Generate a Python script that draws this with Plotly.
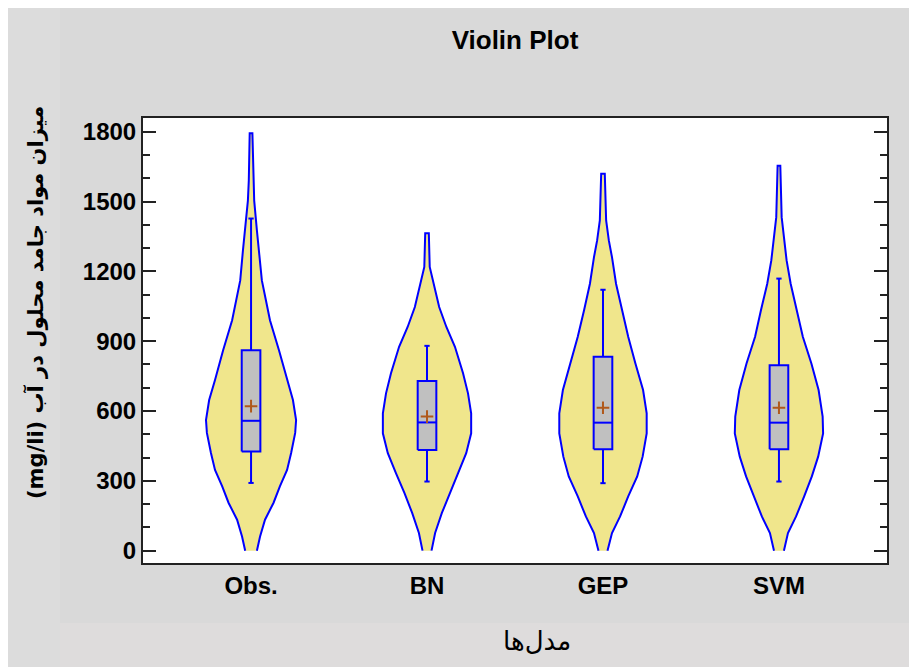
import plotly.graph_objects as go

# ---------------- data ----------------
categories = ["Obs.", "BN", "GEP", "SVM"]

# violin outlines: value levels (top -> bottom) and relative density (max = 1)
obs_levels = [1793, 1590, 1504, 1376, 1290, 1161, 1076, 990, 861, 733, 647, 561, 506, 420, 347, 276, 206, 133, 61, 0]
obs_dens   = [0.03, 0.05, 0.07, 0.13, 0.18, 0.24, 0.33, 0.42, 0.62, 0.80, 0.93, 1.00, 0.98, 0.89, 0.80, 0.64, 0.50, 0.31, 0.20, 0.13]

bn_levels = [1364, 1219, 1133, 1047, 961, 876, 762, 676, 590, 504, 419, 333, 247, 162, 76, 0]
bn_dens   = [0.04, 0.06, 0.16, 0.27, 0.43, 0.62, 0.80, 0.91, 0.98, 0.98, 0.87, 0.69, 0.50, 0.33, 0.18, 0.10]

gep_levels = [1619, 1419, 1333, 1261, 1147, 1033, 919, 804, 690, 590, 504, 404, 319, 233, 147, 76, 0]
gep_dens   = [0.04, 0.07, 0.13, 0.20, 0.29, 0.42, 0.56, 0.72, 0.89, 0.97, 0.97, 0.88, 0.76, 0.56, 0.38, 0.20, 0.10]

svm_levels = [1654, 1433, 1347, 1247, 1147, 1033, 919, 804, 690, 576, 504, 404, 319, 233, 147, 76, 0]
svm_dens   = [0.03, 0.06, 0.11, 0.17, 0.26, 0.40, 0.53, 0.72, 0.88, 0.97, 0.98, 0.87, 0.73, 0.56, 0.38, 0.20, 0.11]

# box statistics
q1_vals     = [426, 433, 436, 436]
median_vals = [558, 551, 550, 550]
q3_vals     = [861, 729, 833, 797]
lower_vals  = [291, 297, 290, 297]
upper_vals  = [1427, 880, 1121, 1169]
mean_vals   = [621, 576, 614, 614]

y_tick_vals = [0, 300, 600, 900, 1200, 1500, 1800]

# ---------------- styling ----------------
VIOLIN_HALF = 0.256
BOX_HALF = 0.053
CAP_HALF = 0.015
BLUE = "#0000ff"
KHAKI = "#f0e68c"
FONT = "Liberation Sans, Arial, DejaVu Sans, sans-serif"

fig = go.Figure()

violins = [(obs_levels, obs_dens), (bn_levels, bn_dens), (gep_levels, gep_dens), (svm_levels, svm_dens)]
for i, (lv, dn) in enumerate(violins):
    up_lv = lv[::-1]
    up_dn = dn[::-1]
    xs = [i - d * VIOLIN_HALF for d in up_dn] + [i + d * VIOLIN_HALF for d in dn]
    ys = list(up_lv) + list(lv)
    fig.add_trace(go.Scatter(x=xs, y=ys, mode="lines", fill="toself", fillcolor=KHAKI,
                             line=dict(width=0), hoverinfo="skip", showlegend=False))
    fig.add_trace(go.Scatter(x=xs, y=ys, mode="lines", line=dict(color=BLUE, width=2),
                             hoverinfo="skip", showlegend=False))

# box plots (drawn as scatter so they sit above the violin fill)
for i in range(len(categories)):
    q1, md, q3 = q1_vals[i], median_vals[i], q3_vals[i]
    lo, hi = lower_vals[i], upper_vals[i]
    # whiskers + caps
    fig.add_trace(go.Scatter(
        x=[i, i, None, i, i, None, i - CAP_HALF, i + CAP_HALF, None, i - CAP_HALF, i + CAP_HALF],
        y=[q3, hi, None, q1, lo, None, hi, hi, None, lo, lo],
        mode="lines", line=dict(color=BLUE, width=2), hoverinfo="skip", showlegend=False))
    # box
    fig.add_trace(go.Scatter(
        x=[i - BOX_HALF, i + BOX_HALF, i + BOX_HALF, i - BOX_HALF, i - BOX_HALF],
        y=[q1, q1, q3, q3, q1],
        mode="lines", fill="toself", fillcolor="#c0c0c0",
        line=dict(color=BLUE, width=2), hoverinfo="skip", showlegend=False))
    # median
    fig.add_trace(go.Scatter(
        x=[i - BOX_HALF, i + BOX_HALF], y=[md, md],
        mode="lines", line=dict(color=BLUE, width=2), hoverinfo="skip", showlegend=False))

fig.add_trace(go.Scatter(
    x=list(range(len(categories))), y=mean_vals, mode="markers",
    marker=dict(symbol="cross-thin", size=9, line=dict(color="#b0581a", width=2)),
    showlegend=False,
))

# background shading regions (paper coords relative to plot area)
def px_x(p):
    return (p - 143) / 744.0

def px_y(p):
    return (563 - p) / 445.0

shapes = [
    dict(type="rect", xref="paper", yref="paper", x0=px_x(8), x1=px_x(60), y0=px_y(667), y1=px_y(8),
         fillcolor="#dcdcdc", line=dict(width=0), layer="below"),
    dict(type="rect", xref="paper", yref="paper", x0=px_x(60), x1=px_x(909), y0=px_y(667), y1=px_y(623),
         fillcolor="#dedcdc", line=dict(width=0), layer="below"),
    dict(type="rect", xref="paper", yref="paper", x0=px_x(0), x1=px_x(8), y0=px_y(667), y1=px_y(0),
         fillcolor="white", line=dict(width=0), layer="below"),
    dict(type="rect", xref="paper", yref="paper", x0=px_x(0), x1=px_x(909), y0=px_y(8), y1=px_y(0),
         fillcolor="white", line=dict(width=0), layer="below"),
]

fig.update_layout(
    width=909, height=667,
    margin=dict(l=143, r=22, t=118, b=104),
    paper_bgcolor="#d9d9d9",
    plot_bgcolor="white",
    shapes=shapes,
    title=dict(text="<b>Violin Plot</b>", x=0.5, xref="paper", xanchor="center",
               y=1 - 40 / 667, yref="container", yanchor="middle",
               font=dict(family=FONT, size=26, color="black")),
    xaxis=dict(range=[-0.614, 3.614], tickvals=list(range(len(categories))),
               ticktext=["<b>%s</b>" % c for c in categories],
               tickfont=dict(family=FONT, size=24, color="black"),
               showgrid=False, zeroline=False, ticks="",
               showline=True, mirror=True, linecolor="#222", linewidth=2),
    yaxis=dict(range=[-53, 1859], tickvals=y_tick_vals,
               ticktext=["<b>%d</b>" % v for v in y_tick_vals],
               tickfont=dict(family=FONT, size=24, color="black"),
               showgrid=False, zeroline=False,
               ticks="inside", ticklen=13, tickwidth=2, tickcolor="#222",
               minor=dict(dtick=100, ticks="inside", ticklen=7, tickwidth=2, tickcolor="#222"),
               showline=True, mirror="ticks", linecolor="#222", linewidth=2),
    annotations=[
        dict(text="<b>(mg/li) میزان مواد جامد محلول در آب</b>", xref="paper", yref="paper",
             x=px_x(35), y=px_y(303), xanchor="center", yanchor="middle", textangle=-90,
             showarrow=False, font=dict(family="DejaVu Sans, sans-serif", size=21, color="black")),
        dict(text="مدل‌ها", xref="paper", yref="paper",
             x=px_x(537), y=px_y(641), xanchor="center", yanchor="middle",
             showarrow=False, font=dict(family="DejaVu Sans, sans-serif", size=26, color="black")),
    ],
)

fig.write_html("out.html")
